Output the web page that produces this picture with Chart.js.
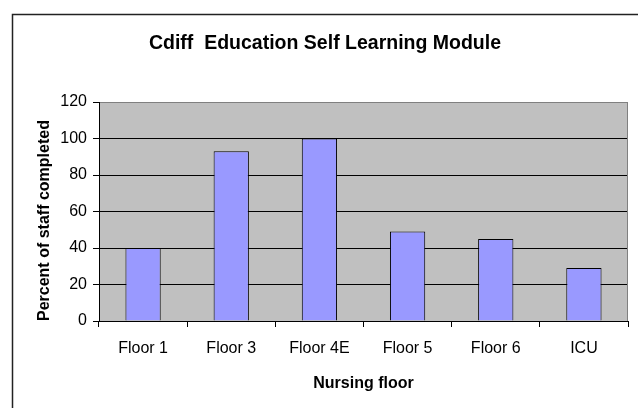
<!DOCTYPE html>
<html>
<head>
<meta charset="utf-8">
<script src="https://cdn.jsdelivr.net/npm/chart.js@4"></script>
<style>
body { margin: 0; background: #fff; }
canvas { display: block; }
</style>
</head>
<body>
<canvas id="chart" width="638" height="408"></canvas>
<script>
const floors = ['Floor 1', 'Floor 3', 'Floor 4E', 'Floor 5', 'Floor 6', 'ICU'];
const percentCompleted = [40, 93, 100, 49, 45, 29];
const yTicks = [0, 20, 40, 60, 80, 100, 120];

Chart.defaults.font.family = '"Liberation Sans", Arial, sans-serif';
Chart.defaults.color = '#000';

const pluginPlotBackground = {
  id: 'plotBackground',
  beforeDraw: (chart, args, options) => {
    const {ctx, chartArea: {left, top, width, height}} = chart;
    ctx.save();
    // outer frame - only left and top edge are visible
    ctx.strokeStyle = '#222';
    ctx.lineWidth = 1.5;
    ctx.beginPath();
    ctx.moveTo(12.5, chart.height);
    ctx.lineTo(12.5, 14.5);
    ctx.lineTo(chart.width, 14.5);
    ctx.stroke();
    ctx.fillStyle = options.color || '#C0C0C0';
    ctx.fillRect(left, top, width, height);
    ctx.restore();
  },
  beforeDatasetsDraw: (chart) => {
    const {ctx, chartArea: {top, right, bottom}} = chart;
    ctx.save();
    ctx.strokeStyle = '#808080';
    ctx.lineWidth = 1;
    ctx.beginPath();
    ctx.moveTo(right - 0.5, bottom);
    ctx.lineTo(right - 0.5, top);
    ctx.stroke();
    ctx.restore();
  }
};

const ctx = document.getElementById('chart');
const myChart = new Chart(ctx, {
  type: 'bar',
  data: {
    labels: floors,
    datasets: [{
      label: 'Percent of staff completed',
      data: percentCompleted,
      backgroundColor: '#9999FF',
      borderColor: '#000000',
      borderWidth: 1,
      categoryPercentage: 0.4,
      barPercentage: 1
    }]
  },
  options: {
    responsive: false,
    animation: false,
    layout: {
      padding: {left: 22, right: 10, top: 0, bottom: 0}
    },
    plugins: {
      legend: {display: false},
      tooltip: {enabled: false},
      title: {
        display: true,
        text: 'Cdiff  Education Self Learning Module',
        color: '#000',
        font: {size: 19.5, weight: 'bold', lineHeight: '24px'},
        padding: {top: 32, bottom: 46}
      },
      plotBackground: {
        color: '#C0C0C0'
      }
    },
    scales: {
      x: {
        grid: {
          drawOnChartArea: false,
          color: '#000',
          tickLength: 6
        },
        border: {color: '#000', width: 1},
        ticks: {
          padding: 12,
          font: {size: 16}
        },
        title: {
          display: true,
          text: 'Nursing floor',
          font: {size: 16, weight: 'bold'},
          padding: {top: 0, bottom: 15}
        },
        afterFit: (scale) => { scale.height = 87; }
      },
      y: {
        min: 0,
        max: 120,
        afterBuildTicks: (axis) => {
          axis.ticks = yTicks.map(v => ({value: v}));
        },
        grid: {
          color: (c) => (c.tick && c.tick.value === 120 ? '#808080' : '#000'),
          tickColor: '#000',
          tickLength: 6
        },
        border: {color: '#000', width: 1},
        ticks: {
          padding: 6,
          font: {size: 16}
        },
        title: {
          display: true,
          text: 'Percent of staff completed',
          align: 'start',
          font: {size: 16, weight: 'bold'},
          padding: {top: 13.4, bottom: 0}
        },
        afterFit: (scale) => { scale.width = 77; }
      }
    }
  },
  plugins: [pluginPlotBackground]
});
</script>
</body>
</html>
